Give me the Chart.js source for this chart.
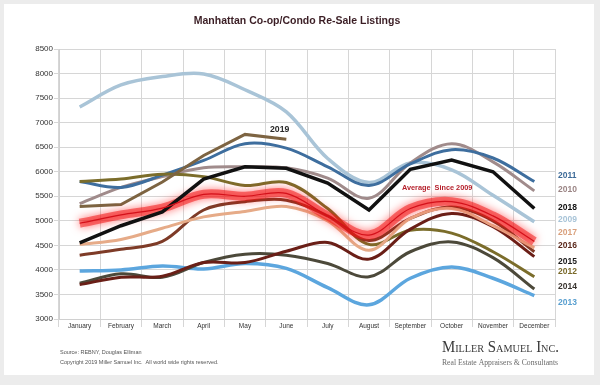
<!DOCTYPE html>
<html>
<head>
<meta charset="utf-8">
<script src="https://cdn.jsdelivr.net/npm/chart.js@4.4.0/dist/chart.umd.min.js"></script>
<style>
  html, body { margin: 0; padding: 0; }
  body { width: 600px; height: 385px; background: #ececec; position: relative; overflow: hidden; }
  #card { position: absolute; left: 4px; top: 4px; width: 590px; height: 371px; background: #fff; }
  #chart { position: absolute; left: 0; top: 0; }
</style>
</head>
<body>
<div id="card"></div>
<canvas id="chart" width="600" height="385"></canvas>
<script>
// listings per month
const months = ['January', 'February', 'March', 'April', 'May', 'June', 'July', 'August', 'September', 'October', 'November', 'December'];
const y2009 = [7320, 7770, 7940, 7990, 7670, 7220, 6270, 5780, 6180, 6040, 5520, 4980];
const y2010 = [5350, 5680, 5900, 6080, 6100, 6080, 5870, 5460, 6180, 6570, 6200, 5610];
const y2011 = [5800, 5680, 5930, 6230, 6570, 6480, 6100, 5720, 6160, 6450, 6280, 5800];
const y2012 = [5800, 5850, 5950, 5900, 5720, 5780, 5250, 4520, 4810, 4750, 4370, 3860];
const y2013 = [3980, 4000, 4080, 4020, 4130, 4030, 3640, 3290, 3830, 4060, 3830, 3475];
const y2014 = [3730, 3920, 3850, 4150, 4320, 4300, 4130, 3860, 4370, 4570, 4250, 3610];
const y2015 = [3700, 3850, 3870, 4150, 4150, 4380, 4560, 4220, 4830, 5150, 4880, 4270];
const y2016 = [4300, 4420, 4580, 5220, 5390, 5420, 5100, 4600, 5050, 5280, 5000, 4370];
const y2017 = [4520, 4620, 4850, 5080, 5190, 5290, 5000, 4400, 5050, 5250, 4900, 4450];
const y2018 = [4550, 4900, 5180, 5850, 6100, 6070, 5770, 5220, 6050, 6240, 6000, 5250];
const y2019 = [5290, 5330, 5790, 6330, 6760, 6660, null, null, null, null, null, null];
const average = [4950, 5120, 5260, 5540, 5500, 5560, 5100, 4710, 5250, 5390, 5100, 4580];

// year labels at the right, top to bottom
const legendYears = ['2011', '2010', '2018', '2009', '2017', '2016', '2015', '2012', '2014', '2013'];
const legendColors = ['#3f6c99', '#9b8585', '#111111', '#a8c4d8', '#d9a07c', '#5c2a1e', '#1a1a1a', '#7a6a2a', '#3a3530', '#5aa0d0'];
const legendRows = [176, 190, 208, 220, 233, 246, 262, 272, 287, 303];

const FONT = '"Liberation Sans", Arial, sans-serif';

function line(label, data, color, width, tension, order) {
    return {
        label: label,
        data: data,
        borderColor: color,
        borderWidth: width,
        tension: tension,
        pointRadius: 0,
        fill: false,
        order: order
    };
}

// squeeze a string into a given width (the logo type is condensed)
function fitText(ctx, text, x, y, width) {
    const w = ctx.measureText(text).width;
    ctx.save();
    ctx.translate(x, y);
    ctx.scale(Math.min(1, width / w), 1);
    ctx.fillText(text, 0, 0);
    ctx.restore();
}

// soft red halo under the average line
const glowPlugin = {
    id: 'glow',
    beforeDatasetDraw(chart, args) {
        if (!chart.data.datasets[args.index].glow) return;
        chart.ctx.save();
        chart.ctx.shadowColor = 'rgba(255,0,0,0.95)';
        chart.ctx.shadowBlur = 9;
    },
    afterDatasetDraw(chart, args) {
        if (chart.data.datasets[args.index].glow) chart.ctx.restore();
    }
};

const textPlugin = {
    id: 'texts',
    afterDraw(chart) {
        const ctx = chart.ctx;
        ctx.save();
        ctx.textBaseline = 'middle';

        ctx.textAlign = 'center';
        ctx.fillStyle = '#3b1e25';
        ctx.font = 'bold 10.5px ' + FONT;
        ctx.fillText('Manhattan Co-op/Condo Re-Sale Listings', 297, 21);

        ctx.textAlign = 'left';
        ctx.font = 'bold 8.5px ' + FONT;
        legendYears.forEach((yr, i) => {
            ctx.fillStyle = legendColors[i];
            ctx.fillText(yr, 558, legendRows[i]);
        });

        ctx.fillStyle = '#2a2a2a';
        ctx.font = 'bold 8.7px ' + FONT;
        ctx.fillText('2019', 270, 130);

        ctx.fillStyle = '#b51f2a';
        ctx.font = 'bold 7.3px ' + FONT;
        ctx.fillText('Average  Since 2009', 402, 188);

        ctx.fillStyle = '#555';
        ctx.font = '5.5px ' + FONT;
        ctx.fillText('Source: REBNY, Douglas Elliman', 60, 352);
        ctx.fillText('Copyright 2019 Miller Samuel Inc.  All world wide rights reserved.', 60, 362);

        ctx.fillStyle = '#3a3a3a';
        ctx.font = 'small-caps 16px "Liberation Serif", serif';
        fitText(ctx, 'Miller Samuel Inc.', 442, 348, 117);
        ctx.fillStyle = '#6a6a6a';
        ctx.font = '8.6px "Liberation Serif", serif';
        fitText(ctx, 'Real Estate Appraisers & Consultants', 442, 363, 116);
        ctx.restore();
    }
};

new Chart(document.getElementById('chart'), {
    type: 'line',
    data: {
        labels: months,
        datasets: [
            line('2009', y2009, '#a9c4d7', 3.5, 0.35, 20),
            line('2010', y2010, '#a08b8b', 3, 0.35, 19),
            line('2011', y2011, '#3e6e9e', 3, 0.35, 18),
            line('2012', y2012, '#7b6d2b', 3, 0.35, 17),
            line('2013', y2013, '#5ca6de', 3.5, 0.35, 16),
            line('2014', y2014, '#4c493a', 3, 0.35, 15),
            line('2015', y2015, '#6a1f17', 3, 0.35, 14),
            line('2016', y2016, '#7e3b27', 3, 0.35, 13),
            line('2017', y2017, '#e6ab88', 3, 0.35, 12),
            line('2019', y2019, '#7d6442', 3, 0, 11),
            Object.assign(line('Average glow', average, 'rgba(240,25,25,0.55)', 9, 0.35, 10), { glow: true }),
            line('2018', y2018, '#111111', 3.5, 0, 9),
            line('Average Since 2009', average, '#d4101a', 1.2, 0.35, 8)
        ]
    },
    options: {
        responsive: false,
        animation: false,
        layout: { padding: { top: 49, right: 45, bottom: 0, left: 0 } },
        plugins: {
            legend: { display: false },
            tooltip: { enabled: false }
        },
        scales: {
            x: {
                offset: true,
                grid: { offset: true, color: '#d6d6d6', tickLength: 8 },
                border: { color: '#d0d0d0' },
                ticks: { color: '#333', font: { family: FONT, size: 6.5 }, padding: -5, maxRotation: 0, autoSkip: false },
                afterFit(scale) { scale.height = 66; }
            },
            y: {
                min: 3000,
                max: 8500,
                grid: { color: '#d6d6d6', tickLength: 5 },
                border: { color: '#d0d0d0' },
                ticks: {
                    stepSize: 500,
                    color: '#333',
                    font: { family: FONT, size: 8 },
                    padding: 1,
                    callback: v => String(v)
                },
                afterFit(scale) { scale.width = 59; }
            }
        }
    },
    plugins: [glowPlugin, textPlugin]
});
</script>
</body>
</html>
